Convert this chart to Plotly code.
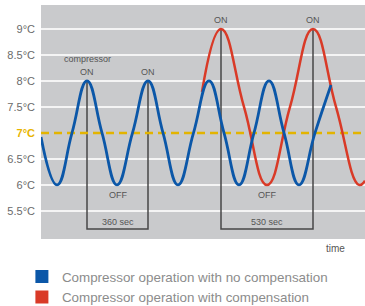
import plotly.graph_objects as go

# ---- data (time in chart units, temperature in °C) ----
blue_t = [0, 16, 31, 46, 61, 76, 91.5, 107, 122, 137, 152.5, 168, 183, 198, 213, 228, 243, 258, 274, 290]
blue_v = [6.92, 6.0, 7.0, 8.0, 7.0, 6.0, 7.0, 8.0, 7.0, 6.0, 7.0, 8.0, 7.0, 6.0, 7.0, 8.0, 7.0, 6.0, 7.0, 7.92]

red_t = [161, 180, 203, 226, 249, 272, 295, 318, 324]
red_v = [7.79, 9.0, 7.5, 6.0, 7.5, 9.0, 7.5, 6.0, 6.08]

setpoint = 7.0
tick_vals = [5.5, 6.0, 6.5, 7.0, 7.5, 8.0, 8.5, 9.0]
tick_text = ["5.5°C", "6°C", "6.5°C", "<b><span style='color:#e8b400'>7°C</span></b>",
             "7.5°C", "8°C", "8.5°C", "9°C"]

# compressor cycles
cycles_blue = {"on": [46, 107], "peak": 8.0, "label": "360 sec"}
cycles_red = {"on": [180, 272], "peak": 9.0, "label": "530 sec"}
box_bottom = 5.15
off_level = 6.0

legend_names = ["Compressor operation with no compensation",
                "Compressor operation with compensation"]

BLUE = "#0b57a8"
RED = "#d93a27"
GOLD = "#e3b400"
BG = "#c9cacc"
GREY_TXT = "#555555"
LINE = "#474747"

fig = go.Figure()

fig.add_trace(go.Scatter(x=[0, 324], y=[setpoint, setpoint], mode="lines",
                         line=dict(color=BG, width=3), showlegend=False, hoverinfo="skip"))

for cyc in (cycles_blue, cycles_red):
    a, b = cyc["on"]
    fig.add_trace(go.Scatter(
        x=[a, a, b, b], y=[cyc["peak"], box_bottom, box_bottom, cyc["peak"]],
        mode="lines", line=dict(color=LINE, width=1.5), showlegend=False, hoverinfo="skip"))

fig.add_trace(go.Scatter(x=[0, 324], y=[setpoint, setpoint], mode="lines",
                         line=dict(color=GOLD, width=2.5, dash="8px,5px"),
                         showlegend=False, hoverinfo="skip"))

fig.add_trace(go.Scatter(x=red_t, y=red_v, mode="lines",
                         line=dict(color=RED, width=2.5, shape="spline", smoothing=1.3),
                         showlegend=False))
fig.add_trace(go.Scatter(x=blue_t, y=blue_v, mode="lines",
                         line=dict(color=BLUE, width=2.8, shape="spline", smoothing=1.3),
                         showlegend=False))

for name, col in zip(legend_names, [BLUE, RED]):
    fig.add_trace(go.Scatter(x=[None], y=[None], mode="markers", name=name,
                             marker=dict(symbol="square", size=13, color=col)))

ann = []
font_small = dict(family="Liberation Sans, Arial, sans-serif", size=9, color=GREY_TXT)
a, b = cycles_blue["on"]
ann.append(dict(x=a, y=cycles_blue["peak"], text="compressor", showarrow=False,
                yshift=22, font=font_small))
for cyc in (cycles_blue, cycles_red):
    a, b = cyc["on"]
    for t in (a, b):
        ann.append(dict(x=t, y=cyc["peak"], text="ON", showarrow=False, yshift=9,
                        font=font_small))
    ann.append(dict(x=(a + b) / 2, y=off_level, text="OFF", showarrow=False, yshift=-10,
                    font=font_small))
    ann.append(dict(x=(a + b) / 2, y=box_bottom, text=cyc["label"], showarrow=False,
                    yshift=7, font=font_small))
ann.append(dict(xref="paper", yref="paper", x=0.944, y=-0.04, text="time", showarrow=False,
                yanchor="middle",
                font=dict(family="Liberation Sans, Arial, sans-serif", size=10, color=GREY_TXT)))

fig.update_layout(
    width=365, height=306,
    margin=dict(l=41, r=0, t=5, b=67, autoexpand=False),
    paper_bgcolor="white", plot_bgcolor=BG,
    font=dict(family="Liberation Sans, Arial, sans-serif"),
    annotations=ann,
    showlegend=True,
    legend=dict(xref="container", yref="container", x=0.06, y=0.146,
                xanchor="left", yanchor="top",
                font=dict(size=13.4, color="#8c8c8c"),
                bgcolor="rgba(0,0,0,0)", tracegroupgap=0, itemwidth=30),
    xaxis=dict(range=[0, 324], showgrid=False, zeroline=False, showticklabels=False,
               showline=False, ticks="", automargin=False),
    yaxis=dict(range=[4.96, 9.46], tickvals=tick_vals, ticktext=tick_text,
               showgrid=True, gridcolor="#f4f4f4", gridwidth=1.5, zeroline=False,
               showline=False, ticks="", ticklabelstandoff=5, automargin=False,
               tickfont=dict(size=11, color="#6a6a6a")),
)

fig.write_html("out.html", config={"displayModeBar": False},
               post_script="document.body.style.margin='0';document.body.style.padding='0';")
